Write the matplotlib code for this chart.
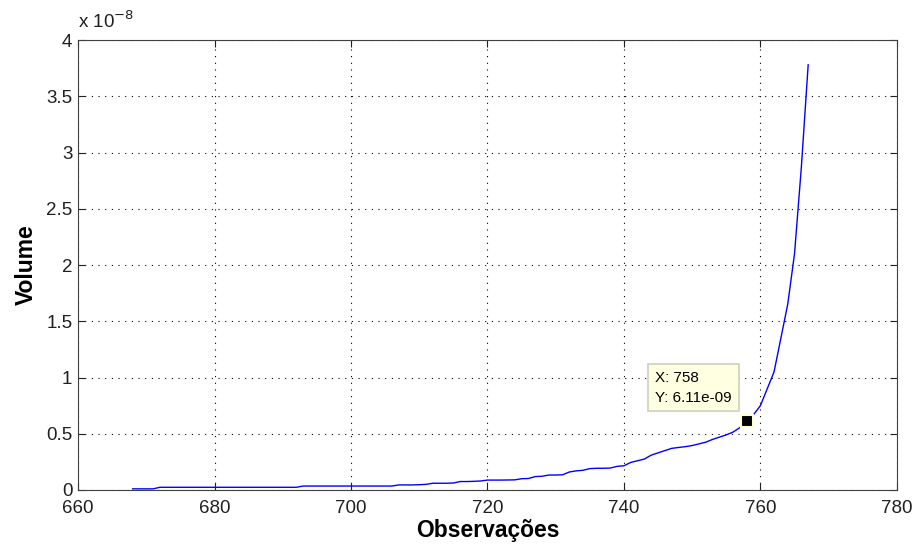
import numpy as np
import matplotlib.pyplot as plt

plt.rcParams['font.family'] = ['Liberation Sans', 'DejaVu Sans']

obs = np.arange(668, 768)
vol_e9 = [
    0.10, 0.10, 0.10, 0.10,                                  # 668-671
    0.24, 0.24, 0.24, 0.24, 0.24, 0.24, 0.24, 0.24, 0.24,    # 672-680
    0.24, 0.24, 0.24, 0.24, 0.24, 0.24, 0.24, 0.24, 0.24,    # 681-689
    0.24, 0.24, 0.24,                                        # 690-692
    0.35, 0.35, 0.35, 0.35, 0.35, 0.35, 0.35, 0.35, 0.35,    # 693-701
    0.35, 0.35, 0.35, 0.35, 0.35,                            # 702-706
    0.45, 0.45, 0.45, 0.47, 0.50,                            # 707-711
    0.60, 0.60, 0.60, 0.62,                                  # 712-715
    0.75, 0.75, 0.77, 0.80,                                  # 716-719
    0.88, 0.88, 0.88, 0.89, 0.90,                            # 720-724
    1.00, 1.02,                                              # 725-726
    1.19, 1.22,                                              # 727-728
    1.33, 1.33, 1.35,                                        # 729-731
    1.60, 1.70, 1.75,                                        # 732-734
    1.90, 1.93, 1.93, 1.95,                                  # 735-738
    2.10, 2.15,                                              # 739-740
    2.45, 2.60, 2.75, 3.10, 3.30, 3.50, 3.70, 3.78,          # 741-748
    3.85, 3.95, 4.10, 4.25, 4.50, 4.70, 4.90, 5.15, 5.55,    # 749-757
    6.11,                                                    # 758
    6.70, 7.50, 9.00, 10.5, 13.5, 16.5, 21.0, 28.7, 37.8,    # 759-767
]
vol = np.array(vol_e9) * 1e-9

tip_x = 758
tip_y = 6.11e-9

fig = plt.figure(figsize=(9.18, 5.49), dpi=100)
ax = fig.add_axes([0.085, 0.1075, 0.892, 0.8195])

ax.plot(obs, vol, color='#0000ff', lw=1.0)

ax.set_xlim(660, 780)
ax.set_ylim(0, 4e-8)
ax.set_xticks(np.arange(660, 781, 20))
yt = np.arange(0, 4.01e-8, 0.5e-8)
ax.set_yticks(yt)
ax.set_yticklabels(['0', '0.5', '1', '1.5', '2', '2.5', '3', '3.5', '4'])

ax.grid(True, color='black', linestyle=(0, (1, 5)), linewidth=0.8)
ax.tick_params(direction='in', top=True, right=True, labelsize=13.5, length=5,
               colors='#202020')
ax.tick_params(axis='x', pad=7)
ax.tick_params(axis='y', pad=4)
for s in ax.spines.values():
    s.set_color('#404040')

ax.text(0.0, 1.018, r'x 10$^{-8}$', transform=ax.transAxes, fontsize=13.5,
        ha='left', va='bottom', color='#202020')

ax.set_xlabel('Observações', fontsize=16.5, fontweight='bold', labelpad=2)
ax.set_ylabel('Volume', fontsize=16.5, fontweight='bold', labelpad=6)

# data tip
ax.plot([tip_x], [tip_y], marker='s', markersize=8, color='black',
        markeredgecolor='#ffffd0', markeredgewidth=1.5, zorder=5)
ax.annotate(f'X: {tip_x}\nY: {tip_y:.2e}', xy=(tip_x, tip_y),
            xytext=(-66, 12), textcoords='offset points',
            fontsize=11, ha='left', va='bottom', linespacing=1.5,
            bbox=dict(boxstyle='square,pad=0.45', fc='#ffffe1', ec='#d0d0bc', lw=1.2),
            zorder=6)

fig.savefig('out.png', dpi=100)
